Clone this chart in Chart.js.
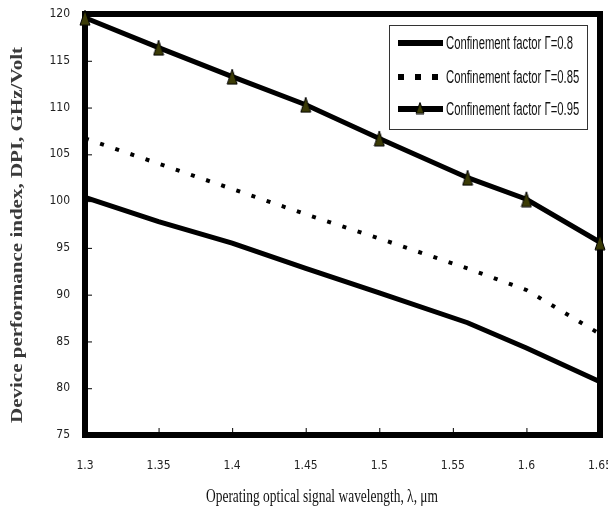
<!DOCTYPE html>
<html lang="en">
<head>
  <meta charset="UTF-8">
  <title>Device performance index vs wavelength</title>
  <script src="https://cdn.jsdelivr.net/npm/chart.js"></script>
  <style>
    html, body { margin: 0; padding: 0; background: #fff; }
    #chart { display: block; }
  </style>
</head>
<body>
  <canvas id="chart" width="608" height="515"></canvas>

  <script>
    // values
    const wavelengths = [1.3, 1.35, 1.4, 1.45, 1.5, 1.56, 1.6, 1.65];
    const gamma08  = [100.4, 97.8, 95.5, 92.8, 90.2, 87.0, 84.3, 80.7];
    const gamma085 = [106.7, 104.0, 101.3, 98.6, 96.0, 92.8, 90.5, 85.8];
    const gamma095 = [119.6, 116.4, 113.3, 110.3, 106.7, 102.5, 100.2, 95.6];

    const seriesLabels = [
      'Confinement factor Γ=0.8',
      'Confinement factor Γ=0.85',
      'Confinement factor Γ=0.95'
    ];
    const xTicks = [1.3, 1.35, 1.4, 1.45, 1.5, 1.55, 1.6, 1.65];
    const yTicks = [75, 80, 85, 90, 95, 100, 105, 110, 115, 120];
    const xTitle = 'Operating optical signal wavelength, λ, μm';
    const yTitle = 'Device performance index, DPI, GHz/Volt';

    const tickFont = { family: "'Liberation Sans Narrow', 'DejaVu Sans Condensed', 'Arial Narrow', sans-serif", size: 12 };

    // narrow olive triangle used as marker
    function triangleMarker(w, h) {
      const c = document.createElement('canvas');
      c.width = w + 2;
      c.height = h + 2;
      const g = c.getContext('2d');
      g.beginPath();
      g.moveTo(c.width / 2, 1);
      g.lineTo(w + 1, h + 1);
      g.lineTo(1, h + 1);
      g.closePath();
      g.fillStyle = '#3b3b06';
      g.fill();
      g.strokeStyle = '#000';
      g.lineWidth = 1;
      g.stroke();
      return c;
    }
    const marker = triangleMarker(10, 15);
    const legendMarker = triangleMarker(8, 11);

    // text squeezed/stretched along its direction to a given length
    function drawFitted(ctx, text, x, y, font, length, angle, color) {
      ctx.save();
      ctx.font = font;
      const w = ctx.measureText(text).width;
      ctx.translate(x, y);
      ctx.rotate(angle);
      ctx.scale(length / w, 1);
      ctx.textAlign = 'center';
      ctx.textBaseline = 'middle';
      ctx.fillStyle = color;
      ctx.fillText(text, 0, 0);
      ctx.restore();
    }

    const framePlugin = {
      id: 'frame',
      beforeDatasetsDraw(chart) {
        const ctx = chart.ctx;
        const a = chart.chartArea;
        ctx.save();
        ctx.strokeStyle = '#000';
        ctx.lineWidth = 6;
        ctx.strokeRect(a.left, a.top, a.right - a.left, a.bottom - a.top);
        // small inward ticks
        ctx.lineWidth = 1;
        ctx.beginPath();
        chart.scales.x.ticks.forEach(t => {
          const px = chart.scales.x.getPixelForValue(t.value);
          if (px <= a.left + 4 || px >= a.right - 4) return;
          ctx.moveTo(px + 0.5, a.bottom - 3);
          ctx.lineTo(px + 0.5, a.bottom - 7);
        });
        chart.scales.y.ticks.forEach(t => {
          const py = chart.scales.y.getPixelForValue(t.value);
          if (py <= a.top + 4 || py >= a.bottom - 4) return;
          ctx.moveTo(a.left + 3, py + 0.5);
          ctx.lineTo(a.left + 7, py + 0.5);
        });
        ctx.stroke();
        ctx.restore();
      }
    };

    const legendPlugin = {
      id: 'boxLegend',
      afterDatasetsDraw(chart) {
        const ctx = chart.ctx;
        const a = chart.chartArea;
        const x0 = a.right - 211, y0 = a.top + 11, w = 198, h = 104;
        ctx.save();
        ctx.fillStyle = '#fff';
        ctx.fillRect(x0, y0, w, h);
        ctx.strokeStyle = '#333';
        ctx.lineWidth = 1;
        ctx.strokeRect(x0 + 0.5, y0 + 0.5, w, h);

        const rows = [y0 + 18, y0 + 52, y0 + 84];
        const font = "18px 'Liberation Sans', Arial, sans-serif";
        ctx.font = font;
        const squeeze = 127 / ctx.measureText(seriesLabels[0]).width;

        chart.data.datasets.forEach((ds, i) => {
          const y = rows[i];
          ctx.strokeStyle = '#000';
          ctx.lineWidth = 6;
          ctx.lineCap = 'butt';
          ctx.setLineDash(i === 1 ? [6, 11] : []);
          ctx.beginPath();
          ctx.moveTo(x0 + 9, y);
          ctx.lineTo(x0 + 54, y);
          ctx.stroke();
          ctx.setLineDash([]);
          if (i === 2) {
            ctx.drawImage(legendMarker, x0 + 31 - legendMarker.width / 2, y - legendMarker.height / 2 - 1);
          }
          ctx.save();
          ctx.translate(x0 + 57, y);
          ctx.scale(squeeze, 1);
          ctx.font = font;
          ctx.fillStyle = '#111';
          ctx.textAlign = 'left';
          ctx.textBaseline = 'middle';
          ctx.fillText(ds.label, 0, 1);
          ctx.restore();
        });
        ctx.restore();
      }
    };

    const titlesPlugin = {
      id: 'axisTitles',
      afterDraw(chart) {
        const ctx = chart.ctx;
        drawFitted(ctx, yTitle, 18, 235, "bold 17px 'Liberation Serif', 'Times New Roman', serif", 376, -Math.PI / 2, '#3a3a3a');
        drawFitted(ctx, xTitle, 322, 497, "19px 'Liberation Serif', 'Times New Roman', serif", 232, 0, '#111');
      }
    };

    const toPoints = ys => wavelengths.map((x, i) => ({ x, y: ys[i] }));

    new Chart(document.getElementById('chart'), {
      type: 'line',
      data: {
        datasets: [
          {
            label: seriesLabels[0],
            data: toPoints(gamma08),
            borderColor: '#000',
            borderWidth: 5,
            pointRadius: 0,
            tension: 0,
            clip: false
          },
          {
            label: seriesLabels[1],
            data: toPoints(gamma085),
            borderColor: '#000',
            borderWidth: 4,
            borderDash: [4, 12],
            borderCapStyle: 'butt',
            pointRadius: 0,
            tension: 0,
            clip: false
          },
          {
            label: seriesLabels[2],
            data: toPoints(gamma095),
            borderColor: '#000',
            borderWidth: 5,
            pointStyle: marker,
            pointRadius: 8,
            tension: 0,
            clip: false
          }
        ]
      },
      options: {
        responsive: false,
        animation: false,
        devicePixelRatio: 1,
        layout: {
          autoPadding: false,
          padding: { top: 14, right: 8, left: 0, bottom: 0 }
        },
        plugins: {
          legend: { display: false },
          tooltip: { enabled: false }
        },
        scales: {
          x: {
            type: 'linear',
            min: 1.3,
            max: 1.65,
            afterBuildTicks: s => { s.ticks = xTicks.map(v => ({ value: v })); },
            afterFit: s => {
              s.height = 80;
              s.paddingLeft = 0;
              s.paddingRight = 0;
            },
            grid: { display: false },
            border: { display: false },
            ticks: {
              autoSkip: false,
              maxRotation: 0,
              padding: 16,
              color: '#222',
              font: tickFont,
              callback: v => String(v)
            }
          },
          y: {
            type: 'linear',
            min: 75,
            max: 120,
            afterBuildTicks: s => { s.ticks = yTicks.map(v => ({ value: v })); },
            afterFit: s => {
              s.width = 85;
              s.paddingTop = 0;
              s.paddingBottom = 0;
            },
            grid: { display: false },
            border: { display: false },
            ticks: {
              padding: 7,
              color: '#222',
              font: tickFont,
              callback: v => String(v)
            }
          }
        }
      },
      plugins: [framePlugin, legendPlugin, titlesPlugin]
    });
  </script>
</body>
</html>
